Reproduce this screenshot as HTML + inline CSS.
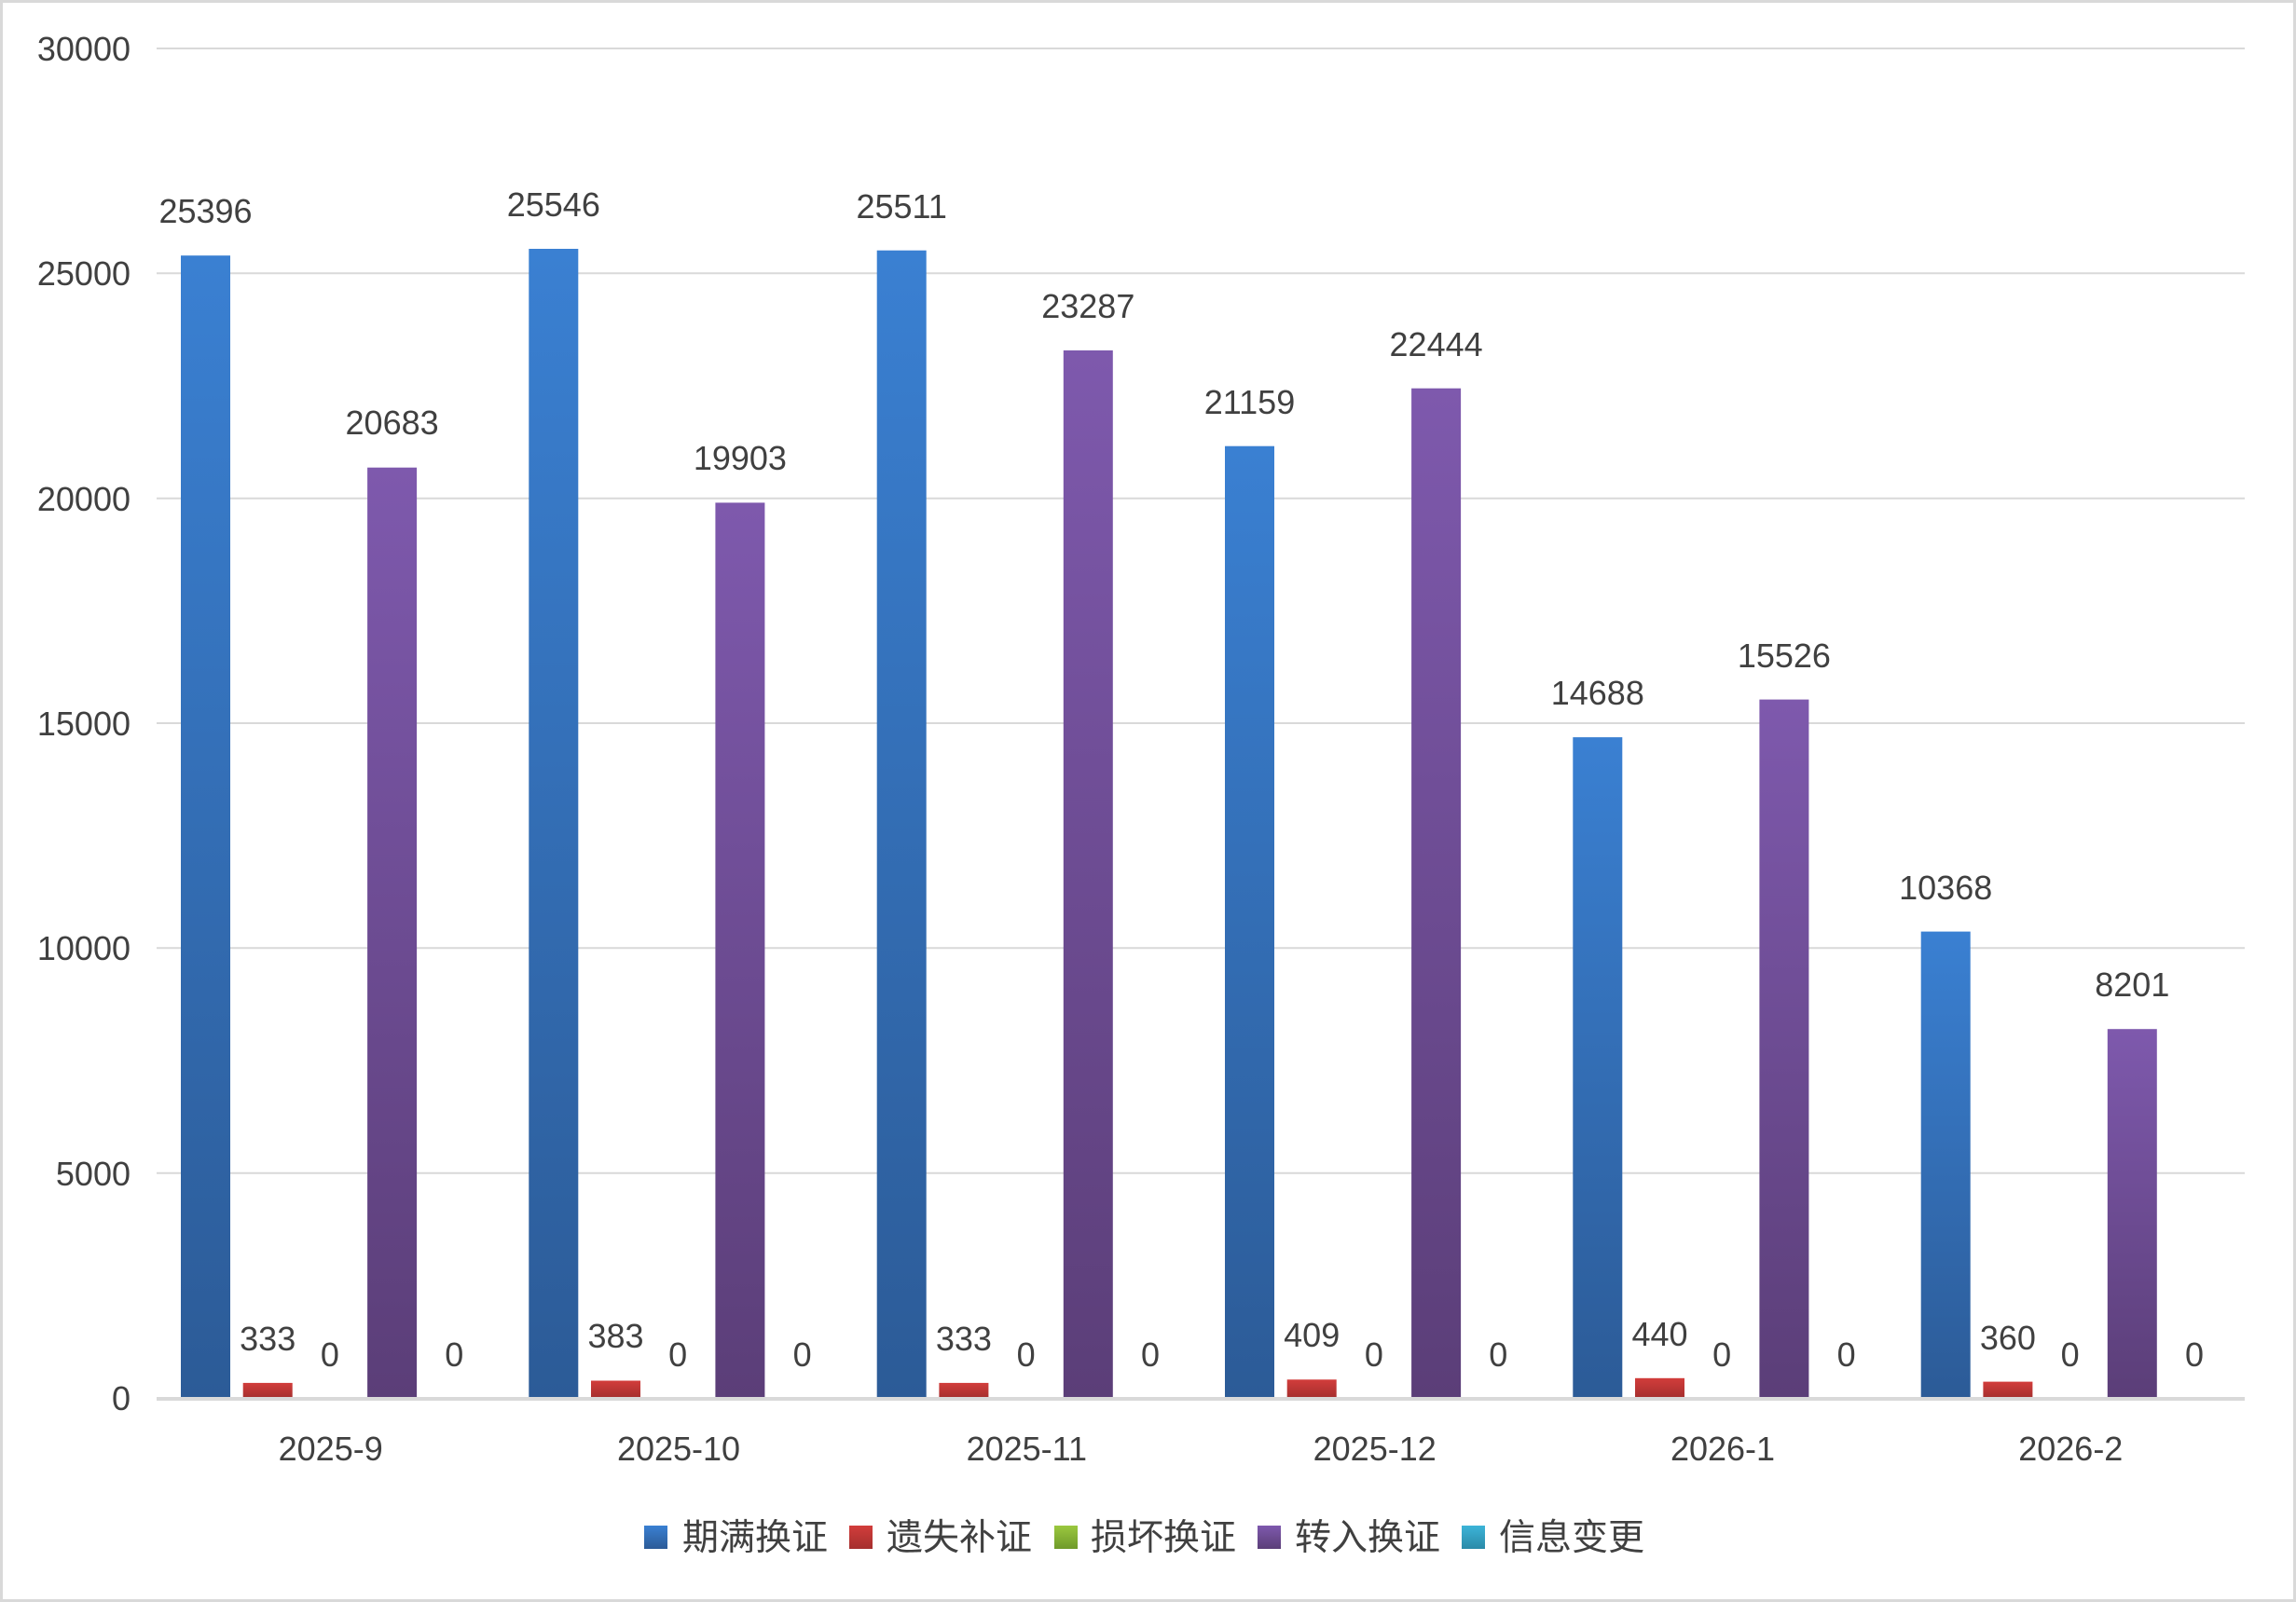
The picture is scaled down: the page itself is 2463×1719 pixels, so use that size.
<!DOCTYPE html>
<html><head><meta charset="utf-8"><style>
html,body{margin:0;padding:0;background:#fff}
svg{display:block}
text{font-family:"Liberation Sans","Noto Sans CJK SC",sans-serif;fill:#404040}
</style></head><body>
<svg width="2463" height="1719" viewBox="0 0 2463 1719" xmlns="http://www.w3.org/2000/svg">
<defs>
<linearGradient id="gb" x1="0" y1="0" x2="0" y2="1"><stop offset="0" stop-color="#3a80d2"/><stop offset="1" stop-color="#2c5b97"/></linearGradient>
<linearGradient id="gr" x1="0" y1="0" x2="0" y2="1"><stop offset="0" stop-color="#d23d3b"/><stop offset="1" stop-color="#a52f2e"/></linearGradient>
<linearGradient id="gp" x1="0" y1="0" x2="0" y2="1"><stop offset="0" stop-color="#7e59ad"/><stop offset="1" stop-color="#5b3e78"/></linearGradient>
<linearGradient id="gg" x1="0" y1="0" x2="0" y2="1"><stop offset="0" stop-color="#9bc83f"/><stop offset="1" stop-color="#6f9a2a"/></linearGradient>
<linearGradient id="gc" x1="0" y1="0" x2="0" y2="1"><stop offset="0" stop-color="#3cb4d8"/><stop offset="1" stop-color="#2a8aa8"/></linearGradient>
</defs>
<rect x="1.5" y="1.5" width="2460" height="1716" fill="#fff" stroke="#d9d9d9" stroke-width="3"/>
<g stroke="#d9d9d9" stroke-width="2">
<line x1="168" y1="52" x2="2408" y2="52"/>
<line x1="168" y1="293.3" x2="2408" y2="293.3"/>
<line x1="168" y1="534.7" x2="2408" y2="534.7"/>
<line x1="168" y1="776" x2="2408" y2="776"/>
<line x1="168" y1="1017.3" x2="2408" y2="1017.3"/>
<line x1="168" y1="1258.7" x2="2408" y2="1258.7"/>
</g>
<g font-size="36" text-anchor="end">
<text x="140" y="65">30000</text>
<text x="140" y="306">25000</text>
<text x="140" y="548">20000</text>
<text x="140" y="789">15000</text>
<text x="140" y="1030">10000</text>
<text x="140" y="1272">5000</text>
<text x="140" y="1513">0</text>
</g>
<!-- bars -->
<rect x="194" y="274.2" width="53" height="1225.8" fill="url(#gb)"/>
<rect x="260.7" y="1483.9" width="53" height="16.1" fill="url(#gr)"/>
<rect x="394.1" y="501.7" width="53" height="998.3" fill="url(#gp)"/>
<rect x="567.3" y="267" width="53" height="1233" fill="url(#gb)"/>
<rect x="634" y="1481.5" width="53" height="18.5" fill="url(#gr)"/>
<rect x="767.4" y="539.4" width="53" height="960.6" fill="url(#gp)"/>
<rect x="940.7" y="268.7" width="53" height="1231.3" fill="url(#gb)"/>
<rect x="1007.4" y="1483.9" width="53" height="16.1" fill="url(#gr)"/>
<rect x="1140.8" y="376" width="53" height="1124" fill="url(#gp)"/>
<rect x="1314" y="478.7" width="53" height="1021.3" fill="url(#gb)"/>
<rect x="1380.7" y="1480.3" width="53" height="19.7" fill="url(#gr)"/>
<rect x="1514.1" y="416.7" width="53" height="1083.3" fill="url(#gp)"/>
<rect x="1687.3" y="791.1" width="53" height="708.9" fill="url(#gb)"/>
<rect x="1754" y="1478.8" width="53" height="21.2" fill="url(#gr)"/>
<rect x="1887.4" y="750.6" width="53" height="749.4" fill="url(#gp)"/>
<rect x="2060.7" y="999.6" width="53" height="500.4" fill="url(#gb)"/>
<rect x="2127.4" y="1482.6" width="53" height="17.4" fill="url(#gr)"/>
<rect x="2260.8" y="1104.2" width="53" height="395.8" fill="url(#gp)"/>
<line x1="168" y1="1501" x2="2408" y2="1501" stroke="#d9d9d9" stroke-width="4"/>
<!-- labels -->
<g font-size="36" text-anchor="middle">
<text x="220.5" y="239">25396</text>
<text x="287.2" y="1449">333</text>
<text x="353.9" y="1466">0</text>
<text x="420.6" y="466">20683</text>
<text x="487.3" y="1466">0</text>
<text x="593.8" y="232">25546</text>
<text x="660.5" y="1446">383</text>
<text x="727.2" y="1466">0</text>
<text x="793.9" y="504">19903</text>
<text x="860.6" y="1466">0</text>
<text x="967.2" y="234">25511</text>
<text x="1033.9" y="1449">333</text>
<text x="1100.6" y="1466">0</text>
<text x="1167.3" y="341">23287</text>
<text x="1234" y="1466">0</text>
<text x="1340.5" y="444">21159</text>
<text x="1407.2" y="1445">409</text>
<text x="1473.9" y="1466">0</text>
<text x="1540.6" y="382">22444</text>
<text x="1607.3" y="1466">0</text>
<text x="1713.8" y="756">14688</text>
<text x="1780.5" y="1444">440</text>
<text x="1847.2" y="1466">0</text>
<text x="1913.9" y="716">15526</text>
<text x="1980.6" y="1466">0</text>
<text x="2087.2" y="965">10368</text>
<text x="2153.9" y="1448">360</text>
<text x="2220.6" y="1466">0</text>
<text x="2287.3" y="1069">8201</text>
<text x="2354" y="1466">0</text>
</g>
<g font-size="36" text-anchor="middle">
<text x="354.7" y="1567">2025-9</text>
<text x="728" y="1567">2025-10</text>
<text x="1101.3" y="1567">2025-11</text>
<text x="1474.7" y="1567">2025-12</text>
<text x="1848" y="1567">2026-1</text>
<text x="2221.3" y="1567">2026-2</text>
</g>
<!-- legend -->
<rect x="691" y="1637" width="25" height="25" fill="url(#gb)"/>
<rect x="911" y="1637" width="25" height="25" fill="url(#gr)"/>
<rect x="1131" y="1637" width="25" height="25" fill="url(#gg)"/>
<rect x="1349" y="1637" width="25" height="25" fill="url(#gp)"/>
<rect x="1568" y="1637" width="25" height="25" fill="url(#gc)"/>
<g font-size="39">
<text x="732" y="1663">期满换证</text>
<text x="951" y="1663">遗失补证</text>
<text x="1170" y="1663">损坏换证</text>
<text x="1389" y="1663">转入换证</text>
<text x="1608" y="1663">信息变更</text>
</g>
</svg>
</body></html>
